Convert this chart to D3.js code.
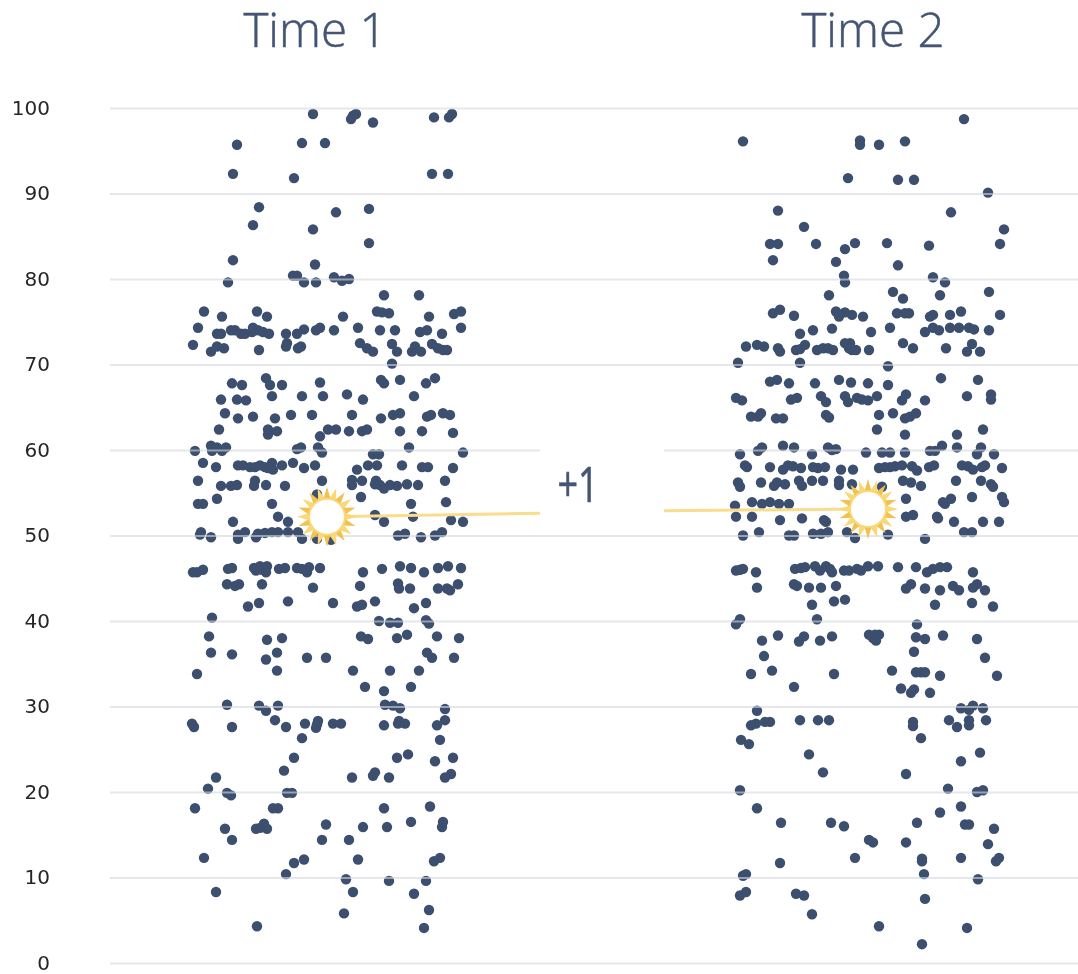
<!DOCTYPE html>
<html>
<head>
<meta charset="utf-8">
<script src="https://cdn.jsdelivr.net/npm/d3@7"></script>
<style>
  body { margin: 0; background: #fff; }
  svg { filter: blur(0.45px); }
  .title { font-family: "Open Sans", sans-serif; font-weight: 300; fill: #445573; stroke: #445573; stroke-width: 0.5px; }
  .yAxis text { font-family: "DejaVu Sans", sans-serif; font-size: 20px; fill: #262626; }
</style>
</head>
<body>
<div id="container"></div>
<script>
/* DATA: [jitter, score] */
const time1 = [
[133,99.3],[176,99.3],[173,99.1],[171,98.7],[193,98.3],[254,98.9],[272,99.3],[269,98.9],[57,95.7],[122,95.9],[145,95.9],[53,92.3],[114,91.8],[252,92.3],[268,92.3],
[79,88.4],[73,86.3],[156,87.8],[189,88.2],[133,85.8],[189,84.2],[53,82.2],[135,81.7],[113,80.4],[117,80.4],[48,79.6],[124,79.6],[136,79.6],[154,80.2],[162,79.8],[169,80],
[204,78.1],[239,78.1],[24,76.2],[42,75.6],[77,76.2],[87,75.6],[197,76.2],[202,76.1],[209,76],[163,75.6],[249,75.6],[274,75.9],[281,76.2],[18,74.3],[281,74.3],
[37,73.6],[41,73.6],[51,74],[55,74],[61,73.6],[65,73.6],[73,74.3],[72,73.8],[78,74],[83,73.8],[89,73.6],[106,73.6],[117,73.6],[124,74.1],[136,74],[140,74.3],[154,74],[178,74.3],[200,74],[215,74],[240,73.8],[247,74],[262,73.6],
[13,72.3],[31,71.5],[37,72.1],[44,71.9],[79,71.7],[107,72.5],[106,72.1],[118,71.9],[121,72.1],[180,72.5],[187,71.9],[193,71.5],[212,72.4],[217,71.5],[232,71.5],[235,72.1],[241,71.5],[252,72.4],[258,71.9],[263,71.7],[267,71.7],
[212,70.1],[86,68.4],[90,67.6],[102,67.6],[52,67.8],[62,67.6],[140,67.9],[201,68.2],[204,67.8],[220,68.2],[246,67.8],[255,68.4],
[41,65.9],[57,65.9],[66,65.8],[92,66.3],[122,66.3],[143,66.3],[167,66.5],[183,65.9],[234,66.3],
[45,64.3],[58,63.7],[73,63.9],[95,63.7],[111,64.1],[132,64.1],[172,64.1],[201,63.7],[213,64.1],[220,64.3],[247,63.9],[251,64.1],[263,64.3],[270,64.1],
[39,62.4],[88,62.4],[97,62.2],[88,61.8],[140,61.6],[148,62.4],[156,62.4],[169,62.2],[182,62.2],[187,62.4],[220,62.2],[242,62.2],[273,62],
[15,59.9],[31,60.5],[32,59.9],[37,60.3],[42,59.9],[46,60.3],[117,60.1],[121,60.3],[138,60.3],[142,59.7],[229,60.3],[283,59.7],[193,59.5],[199,59.5],
[23,58.5],[36,58],[58,58.2],[63,58.2],[70,58],[75,58],[80,58.2],[85,58],[92,58.5],[93,57.7],[88,57.9],[102,58.2],[113,58.5],[124,57.9],[135,58.2],[177,57.7],[188,58.2],[197,58.2],[222,58.2],[242,58],[248,58],[273,57.9],
[18,56.4],[41,55.8],[51,55.8],[57,55.9],[75,56.4],[74,55.8],[86,55.9],[105,55.8],[142,56.4],[172,56.5],[172,55.9],[182,56.4],[196,56.4],[195,56],[200,55.9],[204,55.5],[210,55.9],[217,55.8],[227,56],[238,55.9],[265,56.4],
[37,54.3],[18,53.7],[23,53.7],[181,54.5],[137,54.8],[92,53.7],[231,53.7],[266,53.9],
[98,52.2],[53,51.6],[108,51.6],[195,52.4],[204,51.6],[233,52.2],[271,51.8],[283,51.6],
[21,50.4],[20,50.1],[31,49.8],[58,50.1],[58,49.6],[65,50.4],[76,49.8],[78,50.2],[85,50.3],[92,50.4],[98,50.4],[108,50.4],[118,50.4],[122,49.6],[137,49.6],[151,49.5],[218,50],[225,50.2],[241,49.8],[255,50],[262,50.4],
[13,45.7],[17,45.7],[23,46],[48,46.1],[52,46.2],[74,46.2],[80,46.4],[87,46.4],[76,45.9],[82,46],[86,45.7],[99,46.1],[105,46.2],[117,46.2],[122,46.1],[129,46.3],[127,45.7],[140,46.2],[183,45.7],[202,46.1],[220,46.4],[231,46.2],[244,45.7],[258,46.2],[268,46.4],[281,46.2],
[47,44.3],[55,44.1],[59,44.3],[82,44.3],[133,43.9],[180,44.1],[218,44.4],[219,43.8],[230,43.8],[258,43.8],[267,43.8],[270,43.6],[278,44.3],
[68,41.7],[79,42.1],[108,42.3],[153,42.1],[177,41.7],[182,41.9],[195,42.3],[234,41.5],[246,42.1],[32,40.4],[199,40],[210,39.8],[218,39.8],[246,40.1],[249,39.7],
[29,38.2],[87,37.8],[102,38],[181,38.2],[188,37.9],[217,38],[227,38.4],[257,38.2],[279,38],[31,36.3],[52,36.1],[97,36.3],[86,35.5],[127,35.7],[146,35.7],[247,36.3],[252,35.7],[274,35.7],
[17,33.8],[97,34.2],[173,34.2],[210,34.2],[239,34.2],[185,32.3],[204,31.8],[231,32.3],
[47,30.2],[79,30.1],[86,29.5],[98,30.1],[205,30.2],[213,30.1],[220,29.8],[265,29.7],
[95,28.4],[265,28.4],[12,28],[14,27.6],[52,27.6],[106,27.6],[125,28],[138,28.3],[137,27.9],[136,27.5],[153,28],[161,28],[204,27.8],[219,28.3],[218,28],[225,28],[257,27.8],[122,26.3],[260,26.1],
[114,24],[217,24],[228,24.4],[255,23.6],[273,24],[104,22.5],[36,21.7],[172,21.7],[193,21.9],[195,22.3],[209,21.7],[265,21.7],[271,22.1],
[28,20.4],[47,19.9],[51,19.6],[107,19.9],[112,19.9],[15,18.1],[93,18.1],[98,18.1],[204,18.1],[250,18.3],
[146,16.2],[231,16.5],[263,16.5],[262,15.9],[45,15.7],[76,15.7],[80,15.8],[84,16.3],[87,15.7],[183,15.9],[207,15.9],[52,14.4],[142,14.4],[169,14.4],
[24,12.3],[114,11.7],[124,12.1],[178,12.1],[254,11.9],[260,12.3],[106,10.4],[166,9.8],[209,9.6],[246,9.6],[36,8.3],[173,8.3],[234,8.1],[249,6.2],[164,5.8],[77,4.3],[244,4.1]
];

const time2 = [
[239,98.7],[18,96.1],[135,96.2],[135,95.7],[154,95.7],[180,96.1],[123,91.8],[173,91.6],[189,91.6],[263,90.1],[53,88],[226,87.8],[79,86.1],[279,85.8],
[45,84.1],[53,84.1],[91,84.1],[130,84.2],[120,83.5],[162,84.2],[204,83.9],[275,84.1],[48,82.2],[111,82],[173,81.6],[119,80.4],[120,79.6],[208,80.2],[220,79.6],
[104,78.1],[168,78.5],[178,77.7],[215,78.1],[264,78.5],[48,76],[55,76.4],[69,75.7],[111,76.2],[114,75.6],[120,76.1],[127,75.8],[138,75.6],[172,76],[180,76],[184,76],[205,75.6],[208,75.8],[225,75.8],[236,76.2],[275,75.8],
[75,73.6],[88,74],[107,74.2],[146,73.8],[165,74.3],[200,73.8],[208,74.3],[214,74],[225,74.3],[234,74.3],[244,74.3],[249,74.1],[264,74],
[21,72.1],[32,72.3],[39,72.1],[53,71.9],[55,71.5],[71,71.7],[75,71.8],[80,72.3],[92,71.7],[98,71.9],[103,71.9],[108,71.7],[120,72.5],[125,72.5],[124,71.9],[127,71.7],[131,71.7],[144,71.7],[178,72.5],[188,71.9],[221,71.9],[242,71.5],[247,72.4],[255,71.5],
[13,70.2],[75,70.2],[163,69.8],[45,68],[52,68.2],[64,67.8],[90,67.8],[114,68.2],[126,67.9],[143,67.8],[163,67.6],[216,68.4],[253,68.2],
[11,66.1],[17,65.8],[66,65.9],[72,66.1],[96,66.3],[101,65.6],[120,66.3],[123,65.6],[132,66.1],[137,65.9],[143,65.8],[152,66.3],[181,66.5],[177,65.8],[200,65.8],[242,66.3],[266,66.5],[266,65.9],
[26,63.9],[33,63.9],[36,64.3],[51,63.7],[58,63.7],[101,64.1],[104,63.8],[154,64.1],[168,64.3],[180,63.7],[185,63.9],[191,64.3],[152,62.4],[180,61.8],[232,61.8],[258,62.4],
[15,59.5],[33,59.9],[37,60.3],[58,60.5],[69,60.3],[87,59.5],[103,60.3],[107,60],[111,60.1],[141,59.7],[157,59.7],[165,59.7],[180,59.7],[205,59.9],[210,59.9],[217,60.5],[232,60.3],[256,60.3],[252,59.5],[269,59.5],
[20,58.2],[22,58],[45,58],[58,57.7],[63,58.2],[68,58.1],[76,57.9],[88,58],[93,57.9],[100,58],[116,57.7],[128,57.7],[154,57.9],[160,58],[165,58],[170,58.1],[177,58.2],[187,58.1],[192,57.6],[204,58],[209,58.2],[237,58.2],[243,58.1],[248,57.7],[257,58],[260,58.2],[277,57.9],
[13,56.2],[15,55.7],[36,56.2],[52,56.2],[49,55.8],[60,56],[74,56.4],[77,55.8],[87,56.4],[98,56.4],[114,56.4],[114,55.9],[127,56],[178,56.4],[186,56.2],[196,55.8],[231,56.4],[256,56.4],[266,56],[268,55.7],[157,55.7],
[10,53.5],[27,53.9],[37,53.7],[45,53.9],[54,53.7],[64,53.7],[181,54.3],[247,54.5],[277,54.5],[279,53.9],[220,53.7],[226,54.3],[218,53.9],
[11,52.2],[27,52.2],[55,51.8],[77,52],[99,51.8],[101,51.6],[181,52.2],[188,52.4],[212,52.2],[213,52],[229,51.6],[258,51.6],[274,51.6],
[18,50],[34,50.4],[64,50],[69,50],[88,50.2],[96,50.2],[103,50.4],[122,50.4],[130,49.7],[163,50.1],[200,49.6],[239,50.4],[247,50.4],
[11,45.9],[15,46],[18,46.1],[31,45.7],[70,46.1],[76,46.2],[80,46.3],[90,46.4],[95,45.9],[101,46.4],[105,46.1],[107,45.7],[119,45.9],[124,45.9],[132,46.1],[136,45.9],[143,46.4],[153,46.4],[173,46.3],[191,46.3],[202,45.7],[208,46.1],[215,46.3],[222,46.3],[248,45.7],
[32,43.9],[69,44.3],[72,44.1],[84,43.9],[96,43.9],[111,44.1],[186,44.3],[181,43.8],[200,43.8],[215,43.6],[228,44.1],[234,43.6],[252,44.3],[248,43.9],[260,43.6],
[87,41.9],[109,42.3],[120,42.5],[210,41.9],[247,42.1],[268,41.7],[15,40.2],[11,39.6],[92,40.2],[192,39.6],
[53,38.3],[37,37.7],[74,37.6],[79,38.2],[95,37.7],[107,38.2],[144,38.4],[150,38.4],[154,38.4],[148,38],[151,37.7],[191,38.1],[200,37.9],[218,38.3],[252,37.9],
[39,35.9],[189,36.4],[260,35.7],[26,33.8],[47,34.2],[109,33.8],[167,34.2],[191,34],[196,34],[200,34],[215,33.6],[272,33.6],
[69,32.3],[176,32.1],[186,31.6],[189,32],[205,31.6],[236,29.8],[244,29.6],[248,30.1],[258,29.8],[32,29.5],
[75,28.4],[93,28.4],[104,28.4],[40,28.2],[45,28.2],[31,28],[26,27.8],[224,28.4],[261,28.4],[188,28.2],[188,27.7],[244,28.4],[244,27.8],[232,27.6],[196,26.3],[16,26.1],[24,25.6],
[84,24.4],[255,24.6],[236,23.6],[98,22.3],[181,22.1],[15,20.2],[223,20.4],[252,20],[258,20.2],[32,18.1],[236,18.3],[215,17.6],
[56,16.4],[106,16.4],[119,16],[192,16.4],[240,16.2],[244,16.2],[269,15.7],[144,14.4],[148,14.1],[181,14.1],[263,13.9],
[130,12.3],[55,11.7],[197,12.2],[197,11.9],[236,12.3],[274,12.3],[271,11.9],[21,10.4],[18,10.2],[199,10.4],[253,9.8],
[21,8.3],[15,7.9],[71,8.1],[79,7.9],[200,7.5],[87,5.7],[154,4.3],[242,4.1],[197,2.2]
];

const yTicks = [0, 10, 20, 30, 40, 50, 60, 70, 80, 90, 100];
const titles = ["Time 1", "Time 2"];
const changeLabel = "+1";
// the highlighted respondent, jitter and score at each time
const highlight1 = [147, 52.2];
const highlight2 = [143, 53.1];
const link1 = [[147, 52.2], [360, 52.6]];  // runs out to the gap
const link2 = [[-61, 52.9], [143, 53.1]];

/* CONSTANTS */
const width = 1078, height = 974;
const color = "#3d4f6f", gold = "#f2c14e", goldLight = "#f8d878", linkColor = "#f9dc8e";

const svg = d3.select("#container").append("svg")
  .attr("width", width)
  .attr("height", height);

/* SCALES */
const yScale = d3.scaleLinear().domain([0, 100]).range([963, 108]);
const x1 = d3.scaleLinear().domain([0, 300]).range([180, 480]);
const x2 = d3.scaleLinear().domain([0, 300]).range([725, 1025]);

/* DOTS */
function drawDots(data, xScale) {
  svg.append("g").selectAll("circle")
    .data(data)
    .join("circle")
    .attr("cx", d => xScale(d[0]))
    .attr("cy", d => yScale(d[1]))
    .attr("r", 5.2)
    .attr("fill", color);
}
drawDots(time1, x1);
drawDots(time2, x2);

/* AXIS - the grid sits on top of the dots */
const yAxis = d3.axisLeft(yScale)
  .tickValues(yTicks)
  .tickSize(-(width - 110))
  .tickPadding(60);

const yAxisGroup = svg.append("g")
  .attr("class", "yAxis")
  .attr("transform", "translate(110, 0)")
  .call(yAxis);
yAxisGroup.select(".domain").remove();
yAxisGroup.selectAll("line")
  .attr("stroke", "#d5d7de")
  .attr("stroke-opacity", 0.6)
  .attr("stroke-width", 2);

// white patch behind the change label
svg.append("rect")
  .attr("x", 540).attr("y", yScale(62))
  .attr("width", 124).attr("height", yScale(50.5) - yScale(62))
  .attr("fill", "#fff");

/* LINKS */
const lineGen = xScale => d3.line().x(d => xScale(d[0])).y(d => yScale(d[1]));
svg.append("path").attr("d", lineGen(x1)(link1))
  .attr("fill", "none").attr("stroke", linkColor).attr("stroke-width", 3);
svg.append("path").attr("d", lineGen(x2)(link2))
  .attr("fill", "none").attr("stroke", linkColor).attr("stroke-width", 3);

/* SUNS */
function drawSun(point, xScale) {
  const g = svg.append("g")
    .attr("transform", `translate(${xScale(point[0])}, ${yScale(point[1])})`);
  const rays = d3.range(20);
  const ray = d3.lineRadial().curve(d3.curveLinearClosed);
  g.selectAll("path")
    .data(rays)
    .join("path")
    .attr("d", i => {
      const a = i * 2 * Math.PI / 20;
      return ray([[a - 0.2, 18], [a, 30], [a + 0.2, 18]]);
    })
    .attr("fill", i => i % 2 ? goldLight : gold);
  g.append("circle").attr("r", 19).attr("fill", goldLight);
  g.append("circle").attr("r", 17).attr("fill", "#fff");
}
drawSun(highlight1, x1);
drawSun(highlight2, x2);

/* TEXT */
svg.selectAll(".title")
  .data(titles)
  .join("text")
  .attr("class", "title")
  .attr("x", (d, i) => i === 0 ? 315 : 873)
  .attr("y", 47)
  .attr("text-anchor", "middle")
  .attr("font-size", 47.5)
  .text(d => d);

// the label in the reference is stretched upward, so scale it the same way
svg.append("text")
  .attr("class", "title")
  .attr("transform", "translate(578, 502) scale(0.9, 1.25)")
  .attr("text-anchor", "middle")
  .attr("font-size", 40)
  .attr("font-weight", 400)
  .style("font-weight", 400)
  .text(changeLabel);
</script>
</body>
</html>
